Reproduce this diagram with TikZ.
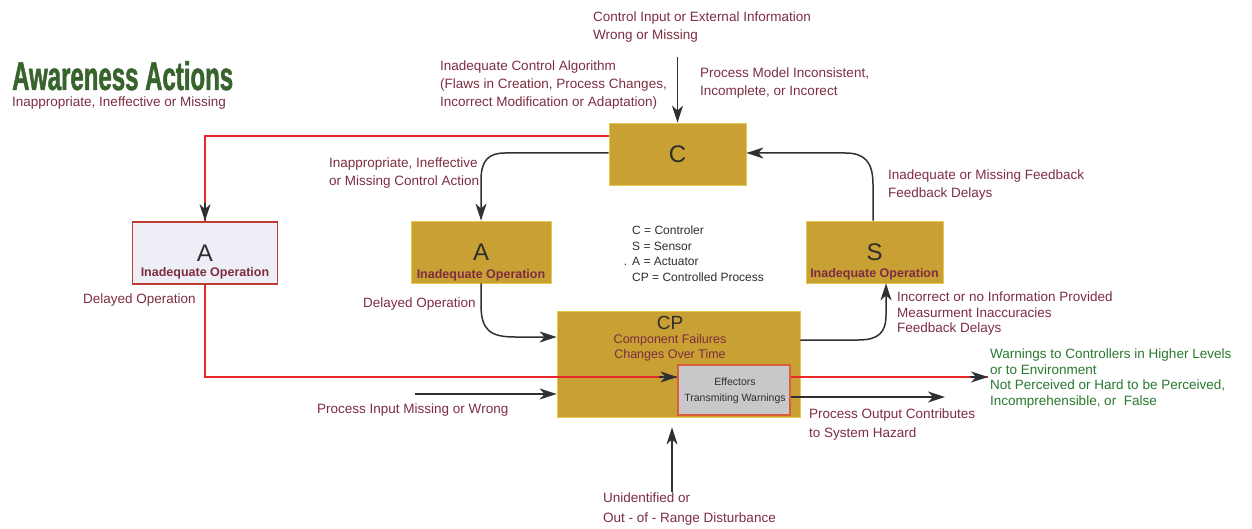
\documentclass[tikz,border=0pt]{standalone}
\usepackage{fontspec}
\setmainfont{Liberation Sans}
\newfontfamily\titlefont{Liberation Sans}[FakeStretch=0.6, BoldFeatures={FakeBold=1.2}]
\usetikzlibrary{arrows.meta}
\definecolor{gold}{RGB}{200,160,52}
\definecolor{goldedge}{RGB}{228,200,80}
\definecolor{maroon}{RGB}{125,45,65}
\definecolor{warnred}{RGB}{232,40,40}
\definecolor{arrowgray}{RGB}{48,48,52}
\definecolor{leafgreen}{RGB}{40,120,45}
\definecolor{titlegreen}{RGB}{55,100,45}
\definecolor{paleA}{RGB}{238,238,246}
\definecolor{effgray}{RGB}{200,200,202}
\definecolor{effedge}{RGB}{215,95,60}
\definecolor{awedge}{RGB}{190,60,50}
\definecolor{boxtext}{RGB}{45,45,45}
\begin{document}
\begin{tikzpicture}[x=1pt,y=-1pt,
  goldbox/.style={draw=goldedge, line width=0.8pt, fill=gold, inner sep=0pt,
    font=\fontsize{24}{24}\selectfont, text=boxtext},
  awbox/.style={draw=awedge, line width=1.8pt, fill=paleA, inner sep=0pt,
    font=\fontsize{24}{24}\selectfont, text=boxtext},
  effbox/.style={draw=effedge, line width=1.2pt, fill=effgray, inner sep=0pt},
  oplabel/.style={font=\bfseries\fontsize{12.5}{12.5}\selectfont, text=maroon, anchor=base, inner sep=0pt},
  note/.style={font=\fontsize{13.5}{18}\selectfont, text=maroon, align=left, anchor=north west, inner sep=0pt},
  legend/.style={font=\fontsize{12}{15.8}\selectfont, text=boxtext, align=left, anchor=north west, inner sep=0pt},
  greennote/.style={font=\fontsize{13.5}{15.5}\selectfont, text=leafgreen, align=left, anchor=north west, inner sep=0pt},
  flow/.style={draw=arrowgray, line width=1.5pt, -{Stealth[length=17pt,width=11pt,inset=5pt]}},
  warnline/.style={draw=warnred, line width=1.3pt},
  warntip/.style={draw=arrowgray, fill=arrowgray, line width=1.3pt, -{Stealth[length=17pt,width=11pt,inset=5pt]}}
]
\useasboundingbox (0,0) rectangle (1252,529);

% title
\node[anchor=base west, inner sep=0pt, text=titlegreen, font=\titlefont\bfseries\fontsize{40}{40}\selectfont] (title) at (12,90) {Awareness Actions};
\node[anchor=base west, inner sep=0pt, text=maroon, font=\fontsize{13.5}{13.5}\selectfont] (subtitle) at (12,107) {Inappropriate, Ineffective or Missing};

% boxes
\node[goldbox, minimum width=137pt, minimum height=62pt] (C) at (677.5,154) {C};
\node[awbox, minimum width=145pt, minimum height=62pt] (aw) at (205,253) {A};
\node[oplabel] (awop) at (205,276.5) {Inadequate Operation};
\node[goldbox, minimum width=140pt, minimum height=62pt] (midA) at (481,252) {A};
\node[oplabel] (midAop) at (481,279) {Inadequate Operation};
\node[goldbox, minimum width=137pt, minimum height=62pt] (S) at (874.5,252) {S};
\node[oplabel] (Sop) at (874.5,277) {Inadequate Operation};
\node[goldbox, minimum width=243pt, minimum height=106pt] (CP) at (678.5,364) {};
\node[anchor=base, inner sep=0pt, text=boxtext, font=\fontsize{19}{19}\selectfont] (CPlabel) at (670,329) {CP};
\node[anchor=north, inner sep=0pt, align=center, text=maroon, font=\fontsize{12.5}{15}\selectfont] (CPnote) at (670,334.5) {Component Failures\\Changes Over Time};
\node[effbox, minimum width=112pt, minimum height=50pt] (eff) at (734,390) {};
\node[anchor=north, inner sep=0pt, align=center, text=boxtext, font=\fontsize{10.5}{16}\selectfont] (efftext) at (735,378) {Effectors\\Transmiting Warnings};

% legend
\node[legend] (legend) at (632,225.5) {C = Controler\\S = Sensor\\\llap{.\hspace{5pt}}A = Actuator\\CP = Controlled Process};

% annotations
\node[note] (ctlnote) at (593,12) {Control Input or External Information\\Wrong or Missing};
\node[note] (algnote) at (440,61) {Inadequate Control Algorithm\\(Flaws in Creation, Process Changes,\\Incorrect Modification or Adaptation)};
\node[note] (modelnote) at (700,68) {Process Model Inconsistent,\\Incomplete, or Incorect};
\node[note] (actnote) at (329,158) {Inappropriate, Ineffective\\or Missing Control Action};
\node[note] (fbnote) at (888,170) {Inadequate or Missing Feedback\\Feedback Delays};
\node[note] (delayL) at (83,294) {Delayed Operation};
\node[note] (delayM) at (363,298) {Delayed Operation};
\node[note, font=\fontsize{13.5}{15.5}\selectfont] (sensnote) at (897,292) {Incorrect or no Information Provided\\Measurment Inaccuracies\\Feedback Delays};
\node[greennote] (warnnote) at (990,349) {Warnings to Controllers in Higher Levels\\or to Environment\\Not Perceived or Hard to be Perceived,\\Incomprehensible, or\ \ False};
\node[note] (innote) at (317,404) {Process Input Missing or Wrong};
\node[note, font=\fontsize{13.5}{19}\selectfont] (outnote) at (809,409) {Process Output Contributes\\to System Hazard};
\node[note, font=\fontsize{13.5}{20}\selectfont] (distnote) at (603,493) {Unidentified or\\Out - of - Range Disturbance};

% helper coordinates
\coordinate (yr1) at (0,136);
\coordinate (yr2) at (0,377);
\coordinate (yc) at (0,153);
\coordinate (ycp) at (0,337);
\coordinate (ycs) at (0,340);
\coordinate (yin) at (0,394);
\coordinate (yout) at (0,397);
\coordinate (xs) at (886,0);
\coordinate (xsn) at (873,0);
\coordinate (ctlin) at (677.5,57);
\coordinate (instart) at (415,394);
\coordinate (outend) at (945,397);
\coordinate (warnend) at (988,377);
\coordinate (dist) at (672,492);

% warning path: red lines ending in dark arrowheads
\draw[warnline] (C.west |- yr1) -| (aw.north);
\draw[warntip] ([yshift=18pt]aw.north) -- (aw.north);
\draw[warnline] (aw.south) |- (eff.west |- yr2);
\draw[warntip] ([xshift=-18pt]eff.west |- yr2) -- (eff.west |- yr2);
\draw[warnline] (eff.east |- yr2) -- (warnend);
\draw[warntip] ([xshift=-18pt]warnend) -- (warnend);

% control loop
\draw[flow] (C.west |- yc) -- (505,153) .. controls (489,153) and (481,160) .. (481,180) -- (midA.north);
\draw[flow] (midA.south) -- (481,305) .. controls (481,330) and (490,337) .. (515,337) -- (CP.west |- ycp);
\draw[flow] (CP.east |- ycs) -- (858,340) .. controls (878,340) and (886,333) .. (886,315) -- (S.south -| xs);
\draw[flow] (S.north -| xsn) -- (873,185) .. controls (873,162) and (865,153) .. (845,153) -- (C.east |- yc);

% external inputs and outputs
\draw[flow] (ctlin) -- (C.north);
\draw[flow] (instart) -- (CP.west |- yin);
\draw[flow] (eff.east |- yout) -- (outend);
\draw[flow, shorten >=10pt] (dist) -- (CP.south -| dist);
\end{tikzpicture}
\end{document}
